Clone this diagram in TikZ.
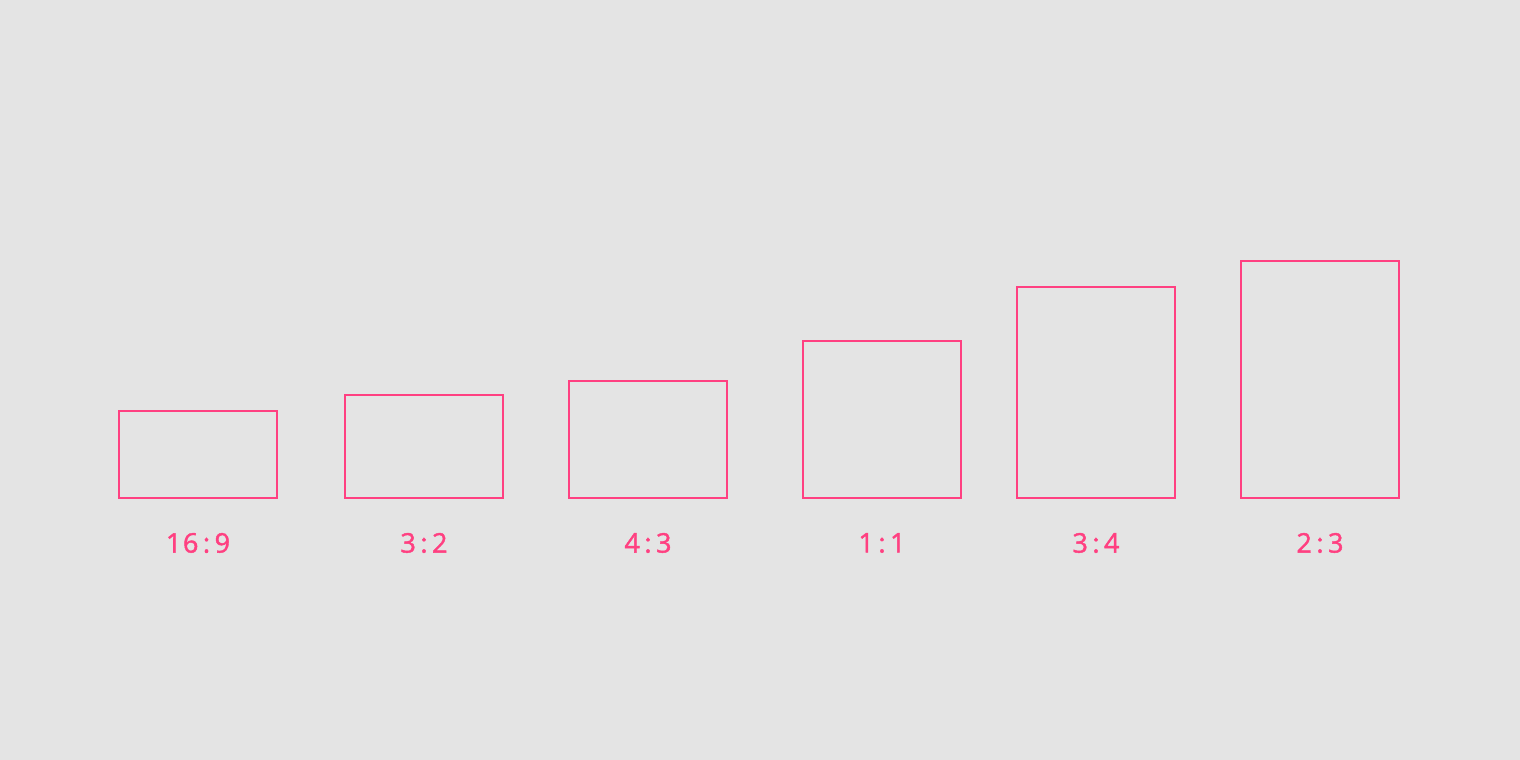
\documentclass[tikz,border=0pt]{standalone}
\usepackage{fontspec}
\setmainfont{Open Sans}
\newfontfamily\labelfont[LetterSpace=6,FakeBold=1.6]{Open Sans}
\definecolor{bg}{HTML}{E4E4E4}
\definecolor{pinkline}{HTML}{FF4081}
\begin{document}
\begin{tikzpicture}[x=0.5pt,y=0.5pt,
  box/.style={draw=pinkline, line width=1pt, inner sep=0pt, minimum width=79pt, anchor=south},
  lbl/.style={text=pinkline, font=\labelfont\fontsize{13.5}{16}\selectfont, inner sep=0pt, anchor=center}]
\fill[bg] (0,0) rectangle (1520,760);
\useasboundingbox (0,0) rectangle (1520,760);
\node[box, minimum height=43.5pt] (b1) at (198,260.5) {};
\node[box, minimum height=51.5pt] (b2) at (424,260.5) {};
\node[box, minimum height=58.5pt] (b3) at (648,260.5) {};
\node[box, minimum height=78.5pt] (b4) at (882,260.5) {};
\node[box, minimum height=105.5pt] (b5) at (1096,260.5) {};
\node[box, minimum height=118.5pt] (b6) at (1320,260.5) {};
\node[lbl] (l1) at (198,217) {16\,:\,9};
\node[lbl] (l2) at (424,217) {3\,:\,2};
\node[lbl] (l3) at (648,217) {4\,:\,3};
\node[lbl] (l4) at (882,217) {1\,:\,1};
\node[lbl] (l5) at (1096,217) {3\,:\,4};
\node[lbl] (l6) at (1320,217) {2\,:\,3};
\end{tikzpicture}
\end{document}
